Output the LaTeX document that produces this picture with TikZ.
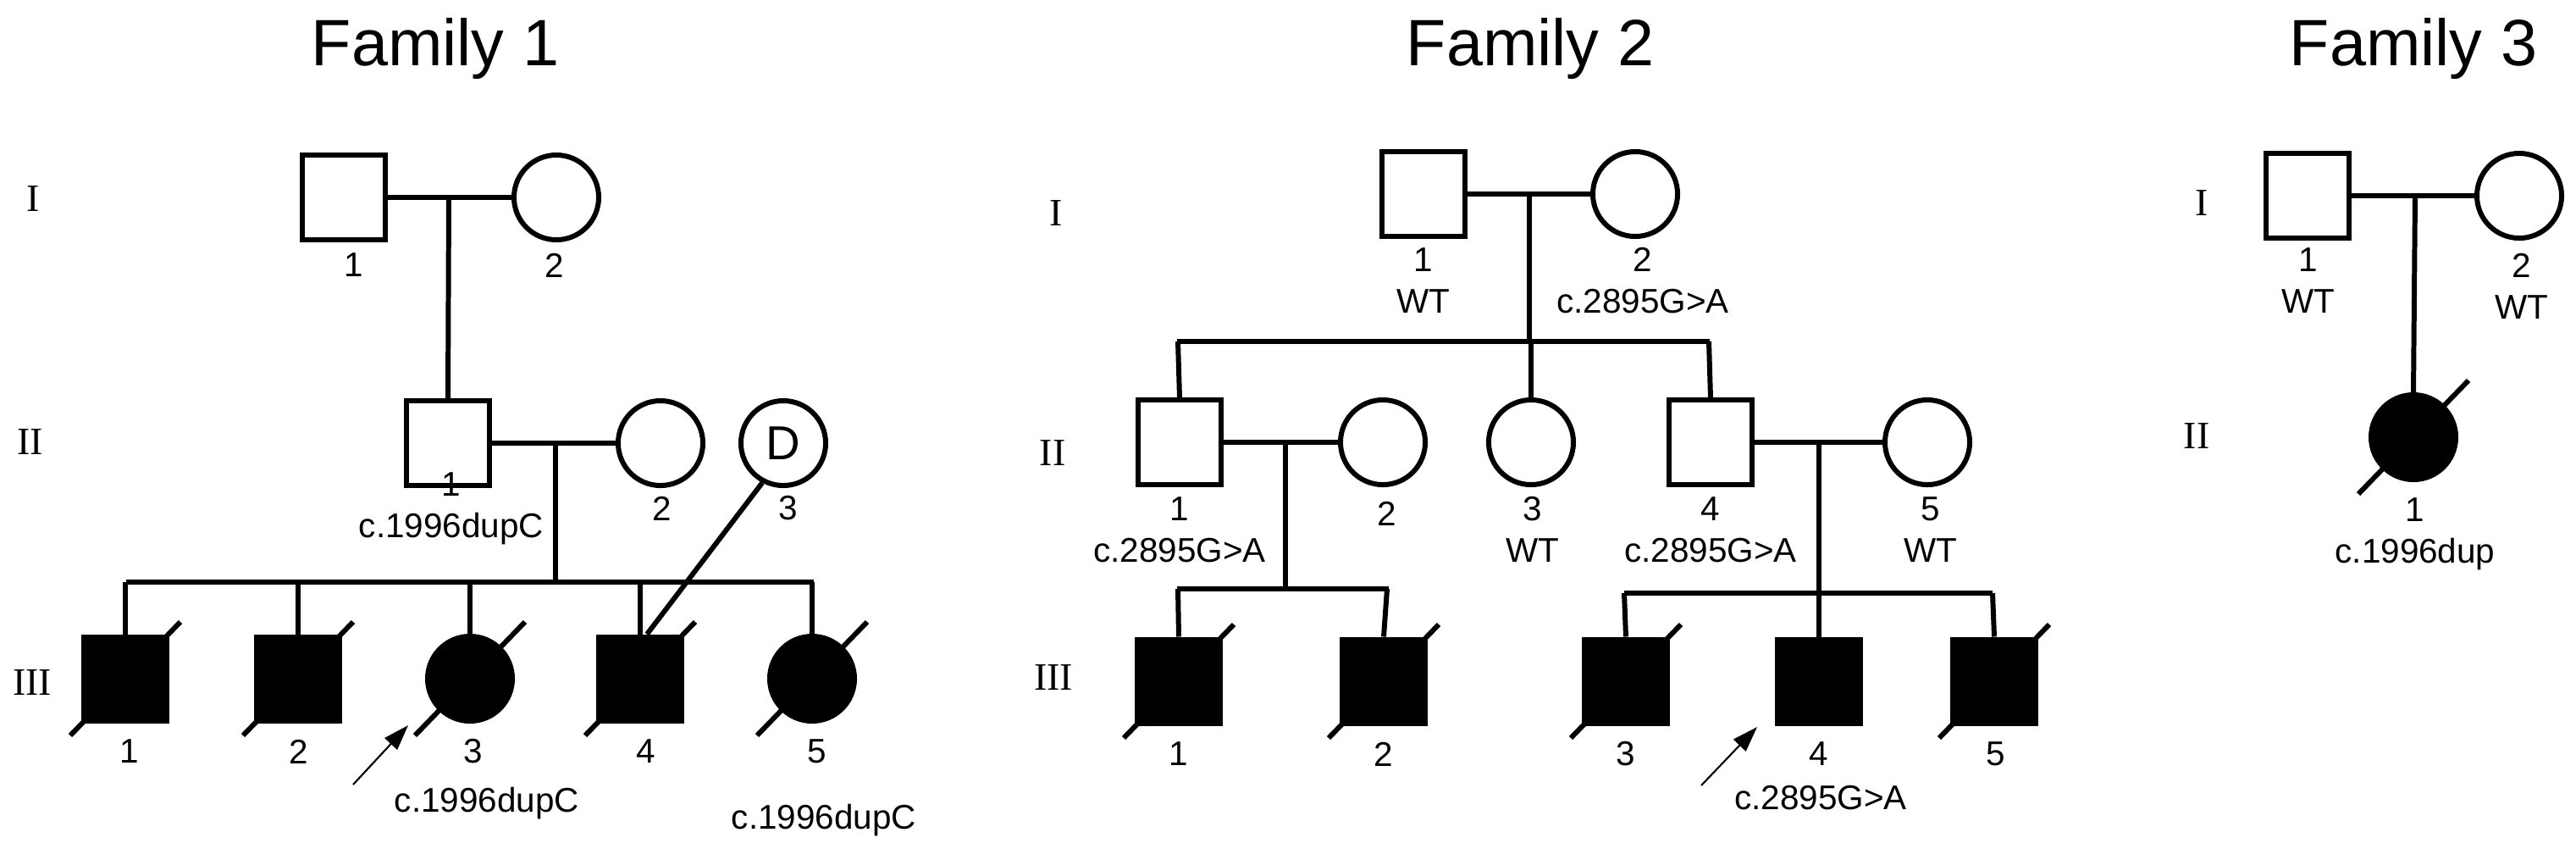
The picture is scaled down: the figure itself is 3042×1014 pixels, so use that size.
\documentclass[tikz,border=0pt]{standalone}
\usepackage{fontspec}
\setmainfont{Liberation Sans}
\newfontfamily\romanf{Liberation Serif}
\usetikzlibrary{arrows.meta}
\begin{document}
\begin{tikzpicture}[x=0.01cm,y=-0.01cm,
  lw/.style={line width=1.7pt},
  male/.style={draw,lw,rectangle,minimum width=0.98cm,minimum height=0.99cm,inner sep=0pt},
  female/.style={draw,lw,circle,minimum size=1cm,inner sep=0pt},
  aff/.style={fill=black},
  lab/.style={font=\fontsize{11.5}{12}\selectfont,inner sep=0pt,align=center},
  gen/.style={font=\romanf\fontsize{13}{14}\selectfont,inner sep=0pt},
  ttl/.style={font=\fontsize{22}{24}\selectfont,inner sep=0pt},
  rel/.style={lw},
  prob/.style={line width=0.6pt,-{Triangle[length=0.3cm,width=0.2cm]}}]
\useasboundingbox (0,0) rectangle (3042,1014);
\newcommand{\dslash}[1]{\draw[lw] ([shift={(-65,67)}]#1.center) -- ([shift={(65,-67)}]#1.center);}
% ---------- Family 1
\node[ttl] (t1) at (514,57) {Family 1};
\node[gen] (g1a) at (39,235) {I};
\node[gen] (g1b) at (36,522) {II};
\node[gen] (g1c) at (38,806) {III};
\node[male] (a1) at (406,233) {};
\node[female] (a2) at (657,233) {};
\node[lab] (la1) at (418,313) {1};
\node[lab] (la2) at (655,313) {2};
\node[male] (b1) at (529,523) {};
\node[female] (b2) at (780,523) {};
\node[female] (b3) at (925,523) {\fontsize{16}{18}\selectfont D};
\node[lab] (lb1) at (533,600) {1\\[2pt]c.1996dupC};
\node[lab] (lb2) at (782,600) {2};
\node[lab] (lb3) at (931,600) {3};
\coordinate (m1) at (530,233);
\draw[rel] (a1) -- (a2);
\draw[rel] (m1) -- (b1.north);
\coordinate (m2) at (656,523);
\coordinate (s1) at (656,687);
\draw[rel] (b1) -- (b2);
\draw[rel] (m2) -- (s1);
\coordinate (s1l) at (149,687);
\coordinate (s1r) at (961,687);
\draw[rel] (s1l) -- (s1r);
\node[male,aff] (c1) at (148,801) {};
\node[male,aff] (c2) at (352,801) {};
\node[female,aff] (c3) at (555,801) {};
\node[male,aff] (c4) at (756,801) {};
\node[female,aff] (c5) at (959,801) {};
\foreach \n/\x in {c1/148,c2/352,c3/555,c4/756,c5/959}{
  \draw[rel] (\x,687) -- (\n.north);
  \dslash{\n}
}
\draw[rel] (b3.-118) -- ([xshift=0.08cm]c4.north);
\foreach \n/\t/\x in {1/1/153,2/2/353,3/3/559,4/4/763,5/5/965}{
  \node[lab] (lc\n) at (\x,887) {\t};
}
\node[lab] (mc3) at (575,948) {c.1996dupC};
\node[lab] (mc5) at (973,968) {c.1996dupC};
\coordinate (ar1) at (417,926);
\draw[prob] (ar1) -- (482,856);
% ---------- Family 2
\node[ttl] (t2) at (1807,57) {Family 2};
\node[gen] (g2a) at (1247,252) {I};
\node[gen] (g2b) at (1243,535) {II};
\node[gen] (g2c) at (1244,800) {III};
\node[male] (d1) at (1681,229) {};
\node[female] (d2) at (1931,229) {};
\node[lab] (ld1) at (1681,331) {1\\[2pt]WT};
\node[lab] (ld2) at (1940,331) {2\\[2pt]c.2895G>A};
\draw[rel] (d1) -- (d2);
\coordinate (m3) at (1806,229);
\coordinate (s3) at (1806,403);
\draw[rel] (m3) -- (s3);
\draw[rel] (1390,403) -- (2019,403);
\node[male] (e1) at (1393,522) {};
\node[female] (e2) at (1633,522) {};
\node[female] (e3) at (1808,522) {};
\node[male] (e4) at (2020,522) {};
\node[female] (e5) at (2276,522) {};
\draw[rel] (1391,403) -- (e1.north);
\draw[rel] (1808,403) -- (e3.north);
\draw[rel] (2018,403) -- (e4.north);
\node[lab] (le1) at (1393,625) {1\\[2pt]c.2895G>A};
\node[lab] (le2) at (1638,606) {2};
\node[lab] (le3) at (1810,625) {3\\[2pt]WT};
\node[lab] (le4) at (2020,625) {4\\[2pt]c.2895G>A};
\node[lab] (le5) at (2280,625) {5\\[2pt]WT};
\draw[rel] (e1) -- (e2);
\draw[rel] (e4) -- (e5);
\coordinate (m4) at (1518,522);
\coordinate (m5) at (2148,522);
\draw[rel] (m4) -- (1518,695);
\draw[rel] (1390,695) -- (1640,695);
\draw[rel] (1918,700) -- (2353,700);
\node[male,aff] (f1) at (1392,804) {};
\node[male,aff] (f2) at (1634,804) {};
\node[male,aff] (f3) at (1920,804) {};
\node[male,aff] (f4) at (2148,804) {};
\node[male,aff] (f5) at (2355,804) {};
\draw[rel] (m5) -- (f4.north);
\draw[rel] (1391,695) -- (f1.north);
\draw[rel] (1638,695) -- (f2.north);
\draw[rel] (1918,700) -- (f3.north);
\draw[rel] (2353,700) -- (f5.north);
\foreach \n in {f1,f2,f3,f5}{\dslash{\n}}
\foreach \n/\x in {1/1392,2/1634,3/1920,4/2148,5/2357}{
  \node[lab] (lf\n) at (\x,890) {\n};
}
\node[lab] (mf4) at (2150,942) {c.2895G>A};
\coordinate (ar2) at (2009,927);
\draw[prob] (ar2) -- (2075,858);
% ---------- Family 3
\node[ttl] (t3) at (2850,57) {Family 3};
\node[gen] (g3a) at (2600,240) {I};
\node[gen] (g3b) at (2594,515) {II};
\node[male] (h1) at (2725,231) {};
\node[female] (h2) at (2975,231) {};
\node[lab] (lh1) at (2726,331) {1\\[2pt]WT};
\node[lab] (lh2) at (2978,338) {2\\[2pt]WT};
\draw[rel] (h1) -- (h2);
\coordinate (m6) at (2852,231);
\node[female,aff] (k1) at (2850,516) {};
\draw[rel] (m6) -- (k1.north);
\dslash{k1}
\node[lab] (lk1) at (2852,630) {1\\[2pt]c.1996dup};
\end{tikzpicture}
\end{document}
